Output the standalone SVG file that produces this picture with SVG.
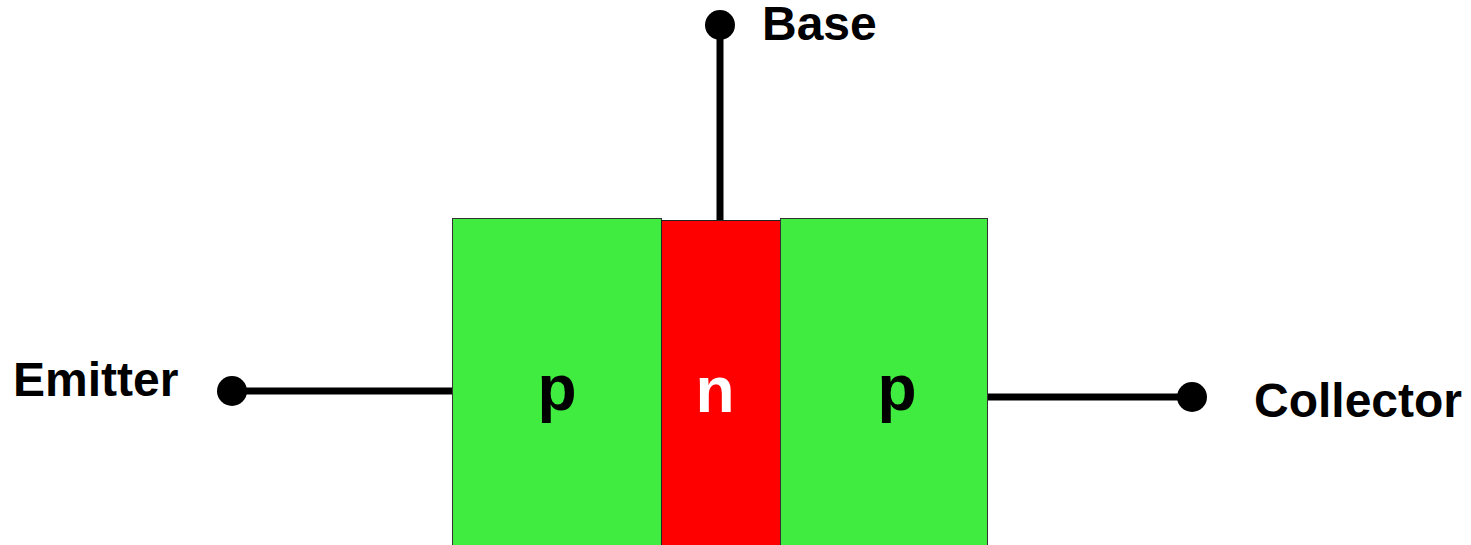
<svg xmlns="http://www.w3.org/2000/svg" width="1471" height="545" viewBox="0 0 1471 545">
<style>
.lbl{font-family:"Liberation Sans",Arial,sans-serif;font-weight:bold;font-size:48px;fill:#000}
.reg{font-family:"Liberation Sans",Arial,sans-serif;font-weight:bold;font-size:64px;text-anchor:middle}
.wire{stroke:#000;stroke-width:7;fill:none}
.green{fill:#3fec3f;stroke:#333;stroke-width:1}
.red{fill:#ff0000;stroke:#222;stroke-width:1}
</style>
<rect width="1471" height="545" fill="#fff"/>
<g id="connectors">
<line class="wire" x1="720" y1="25" x2="720" y2="220"/>
<line class="wire" x1="232" y1="391" x2="453" y2="391"/>
<line class="wire" x1="987" y1="397" x2="1192" y2="397"/>
<circle cx="720" cy="25" r="15" fill="#000"/>
<circle cx="232" cy="391" r="15" fill="#000"/>
<circle cx="1192" cy="397" r="15" fill="#000"/>
</g>
<g id="p-emitter">
<rect class="green" x="452.5" y="218.5" width="209" height="340"/>
<text class="reg" x="557" y="410" fill="#000">p</text>
</g>
<g id="n-base">
<rect class="red" x="661.5" y="220.5" width="119" height="340"/>
<text class="reg" x="715" y="412" fill="#fff">n</text>
</g>
<g id="p-collector">
<rect class="green" x="780.5" y="218.5" width="207" height="340"/>
<text class="reg" x="897" y="410" fill="#000">p</text>
</g>
<g id="base-label"><text class="lbl" x="762" y="40">Base</text></g>
<g id="emitter-label"><text class="lbl" x="13" y="396">Emitter</text></g>
<g id="collector-label"><text class="lbl" x="1254" y="417">Collector</text></g>
</svg>
